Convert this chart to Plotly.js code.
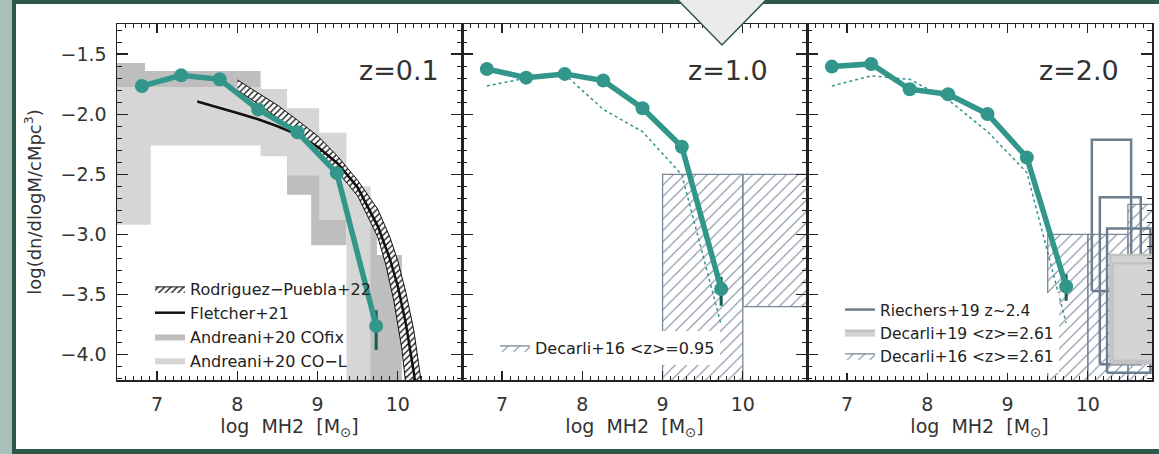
<!DOCTYPE html>
<html><head><meta charset="utf-8">
<script src="https://cdn.plot.ly/plotly-3.0.1.min.js"></script>
<style>html,body{margin:0;padding:0;background:#fff;}#chart{width:1159px;height:454px;}</style>
</head><body><div id="chart"></div>
<script>
// ---------- data ----------
const massBins = [6.81, 7.30, 7.78, 8.26, 8.75, 9.24, 9.73];

// z = 0.1 panel
const z01Y      = [-1.766, -1.677, -1.71, -1.96, -2.15, -2.49, -3.76];
const z01ErrUp  = [0.025, 0.025, 0.025, 0.025, 0.025, 0.03, 0.13];
const z01ErrDn  = [0.025, 0.025, 0.025, 0.025, 0.025, 0.03, 0.20];

const fletcherX = [7.5, 7.75, 8.0, 8.25, 8.5, 8.75, 9.0, 9.25, 9.5, 9.75, 9.9, 10.0, 10.1, 10.2, 10.25];
const fletcherY = [-1.895, -1.94, -1.99, -2.04, -2.10, -2.17, -2.27, -2.41, -2.61, -2.93, -3.2, -3.43, -3.74, -4.15, -4.4];

const rpUpperX = [8.0, 8.25, 8.5, 8.75, 9.0, 9.25, 9.5, 9.75, 9.9, 10.0, 10.1, 10.2, 10.3, 10.35];
const rpUpperY = [-1.715, -1.82, -1.925, -2.05, -2.18, -2.35, -2.55, -2.79, -3.02, -3.22, -3.48, -3.80, -4.25, -4.5];
const rpLowerX = [8.0, 8.25, 8.5, 8.75, 9.0, 9.25, 9.5, 9.75, 9.85, 9.95, 10.05, 10.1, 10.15];
const rpLowerY = [-1.80, -1.91, -2.03, -2.16, -2.30, -2.48, -2.68, -3.02, -3.25, -3.55, -3.95, -4.25, -4.5];

const andFixXlo = [6.5, 6.85, 8.62, 8.92, 9.56, 9.74];
const andFixXhi = [6.85, 8.29, 8.92, 9.36, 9.74, 10.05];
const andFixHi  = [-1.574, -1.64, -2.3, -2.5, -2.88, -3.17];
const andFixLo  = [-1.9, -1.9, -2.67, -3.09, -4.6, -4.6];

const andLXlo = [6.5, 6.92, 8.29, 8.62, 9.02, 9.36];
const andLXhi = [6.92, 8.29, 8.62, 9.02, 9.36, 9.66];
const andLHi  = [-1.773, -1.773, -1.79, -1.95, -2.155, -2.6];
const andLLo  = [-2.92, -2.26, -2.35, -2.51, -2.88, -4.6];

// z = 1.0 panel
const z10Y     = [-1.624, -1.696, -1.665, -1.72, -1.95, -2.27, -3.453];
const z10ErrUp = [0.025, 0.025, 0.025, 0.025, 0.025, 0.03, 0.10];
const z10ErrDn = [0.025, 0.025, 0.025, 0.025, 0.025, 0.03, 0.14];
const z10Dot   = [-1.765, -1.70, -1.67, -1.96, -2.145, -2.504, -3.75];

const dec16aXlo = [9.0, 10.0];
const dec16aXhi = [10.0, 11.0];
const dec16aHi  = [-2.5, -2.5];
const dec16aLo  = [-5.0, -3.6];

// z = 2.0 panel
const z20Y     = [-1.604, -1.582, -1.792, -1.834, -1.998, -2.36, -3.432];
const z20ErrUp = [0.025, 0.025, 0.025, 0.025, 0.025, 0.03, 0.10];
const z20ErrDn = [0.025, 0.025, 0.025, 0.025, 0.025, 0.03, 0.12];
const z20Dot   = [-1.765, -1.682, -1.71, -1.881, -2.145, -2.485, -3.736];

const dec16bXlo = [9.5, 10.0, 10.5];
const dec16bXhi = [10.0, 10.5, 11.0];
const dec16bHi  = [-3.0, -3.0, -2.75];
const dec16bLo  = [-5.0, -5.0, -5.0];

const riechXlo = [10.05, 10.15, 10.24];
const riechXhi = [10.54, 10.66, 10.78];
const riechHi  = [-2.213, -2.69, -2.95];
const riechLo  = [-3.47, -4.08, -4.15];

const dec19Xlo = [10.28, 10.31];
const dec19Xhi = [11.0, 11.0];
const dec19Hi  = [-3.17, -3.24];
const dec19Lo  = [-4.07, -4.05];

const xTicks = [7, 8, 9, 10];
const panelLabels = ['z=0.1', 'z=1.0', 'z=2.0'];
const panelLabelX = [9.49, 9.29, 9.37];

// ---------- helpers ----------
function rects(xlo, xhi, hi, lo) {
  const x = [], y = [];
  for (let i = 0; i < xlo.length; i++) {
    x.push(xlo[i], xhi[i], xhi[i], xlo[i], xlo[i], null);
    y.push(lo[i], lo[i], hi[i], hi[i], lo[i], null);
  }
  return {x, y};
}
const TEAL = '#33968a', TEAL_DK = '#155e55', SLATE = '#7a8898', SLATE_DK = '#6b7d8f';
const FONT = 'DejaVu Sans';

function mainTrace(y, up, dn, xa, ya) {
  return {x: massBins, y: y, xaxis: xa, yaxis: ya, type: 'scatter', mode: 'lines+markers',
    line: {color: TEAL, width: 5.5}, marker: {color: TEAL, size: 14},
    error_y: {type: 'data', symmetric: false, array: up, arrayminus: dn, color: TEAL_DK, thickness: 3, width: 0},
    showlegend: false, hoverinfo: 'skip'};
}
function dotTrace(y, xa, ya) {
  return {x: massBins, y: y, xaxis: xa, yaxis: ya, type: 'scatter', mode: 'lines',
    line: {color: TEAL, width: 1.5, dash: 'dot'}, showlegend: false, hoverinfo: 'skip'};
}

const rFix = rects(andFixXlo, andFixXhi, andFixHi, andFixLo);
const rL = rects(andLXlo, andLXhi, andLHi, andLLo);
const rD16a = rects(dec16aXlo, dec16aXhi, dec16aHi, dec16aLo);
const rD16b = rects(dec16bXlo, dec16bXhi, dec16bHi, dec16bLo);
const rRie = rects(riechXlo, riechXhi, riechHi, riechLo);
const rD19 = rects(dec19Xlo, dec19Xhi, dec19Hi, dec19Lo);

const hatchSlate = {shape: '/', fgcolor: SLATE, bgcolor: 'rgba(0,0,0,0)', size: 8, solidity: 0.14};

const traces = [
  // panel 1
  {x: rFix.x, y: rFix.y, xaxis: 'x', yaxis: 'y', mode: 'lines', fill: 'toself', fillcolor: '#bebebe',
   line: {width: 0, color: '#bebebe'}, name: 'Andreani+20 COfix', legend: 'legend', legendrank: 3, hoverinfo: 'skip'},
  {x: rL.x, y: rL.y, xaxis: 'x', yaxis: 'y', mode: 'lines', fill: 'toself', fillcolor: '#d6d6d6',
   line: {width: 0, color: '#d6d6d6'}, name: 'Andreani+20 CO−L', legend: 'legend', legendrank: 4, hoverinfo: 'skip'},
  {x: rpUpperX.concat(rpLowerX.slice().reverse()), y: rpUpperY.concat(rpLowerY.slice().reverse()),
   xaxis: 'x', yaxis: 'y', mode: 'lines', fill: 'toself', fillcolor: 'white',
   fillpattern: {shape: '/', fgcolor: '#111', bgcolor: 'white', size: 4.5, solidity: 0.3},
   line: {color: '#111', width: 1}, name: 'Rodriguez−Puebla+22', legend: 'legend', legendrank: 1, hoverinfo: 'skip'},
  {x: fletcherX, y: fletcherY, xaxis: 'x', yaxis: 'y', mode: 'lines', line: {color: '#111', width: 2.5},
   name: 'Fletcher+21', legend: 'legend', legendrank: 2, hoverinfo: 'skip'},
  mainTrace(z01Y, z01ErrUp, z01ErrDn, 'x', 'y'),
  // panel 2
  {x: rD16a.x, y: rD16a.y, xaxis: 'x2', yaxis: 'y2', mode: 'lines', fill: 'toself', fillcolor: 'rgba(0,0,0,0)',
   fillpattern: hatchSlate, line: {color: SLATE, width: 1.3}, name: 'Decarli+16 &lt;z&gt;=0.95', legend: 'legend2', hoverinfo: 'skip'},
  dotTrace(z10Dot, 'x2', 'y2'),
  mainTrace(z10Y, z10ErrUp, z10ErrDn, 'x2', 'y2'),
  // panel 3
  {x: rD16b.x, y: rD16b.y, xaxis: 'x3', yaxis: 'y3', mode: 'lines', fill: 'toself', fillcolor: 'rgba(0,0,0,0)',
   fillpattern: hatchSlate, line: {color: SLATE, width: 1.3}, name: 'Decarli+16 &lt;z&gt;=2.61', legend: 'legend3', legendrank: 3, hoverinfo: 'skip'},
  {x: rRie.x, y: rRie.y, xaxis: 'x3', yaxis: 'y3', mode: 'lines', line: {color: SLATE_DK, width: 2.5},
   name: 'Riechers+19 z~2.4', legend: 'legend3', legendrank: 1, hoverinfo: 'skip'},
  {x: rD19.x, y: rD19.y, xaxis: 'x3', yaxis: 'y3', mode: 'lines', fill: 'toself', fillcolor: '#d3d3d3',
   line: {color: '#c3c3c3', width: 2.5}, name: 'Decarli+19 &lt;z&gt;=2.61', legend: 'legend3', legendrank: 2, hoverinfo: 'skip'},
  dotTrace(z20Dot, 'x3', 'y3'),
  mainTrace(z20Y, z20ErrUp, z20ErrDn, 'x3', 'y3')
];

// ---------- layout ----------
const W = 1159, H = 454, ML = 117, MR = 7, MT = 24, MB = 74;
const PW = W - ML - MR, PH = H - MT - MB;
const px = v => (v - ML) / PW;           // page px -> paper x
const py = v => 1 - (v - MT) / PH;       // page px -> paper y

function xAxis(i) {
  const d = [[0, 345 / PW], [345 / PW, 690 / PW], [690 / PW, 1]][i];
  return {
    domain: d, range: [6.5, 10.8], anchor: i === 0 ? 'y' : 'y' + (i + 1),
    showgrid: false, zeroline: false, showline: true, linecolor: '#222', linewidth: 1.5, mirror: 'ticks',
    ticks: 'inside', ticklen: 9, tickwidth: 1.3, tickcolor: '#222',
    tickvals: xTicks, ticktext: xTicks.map(String),
    minor: {ticks: 'inside', dtick: 0.1, tick0: 0, ticklen: 4, tickwidth: 1, tickcolor: '#222'},
    tickfont: {family: FONT, size: 19, color: '#333'}, ticklabelstandoff: 7,
    title: {text: 'log\u00A0 MH2\u00A0 [M<sub>⊙</sub>]', font: {family: FONT, size: 19, color: '#333'}, standoff: 4}
  };
}
function yAxis(i) {
  const a = {
    domain: [0, 1], range: [-4.21, -1.25], anchor: i === 0 ? 'x' : 'x' + (i + 1),
    showgrid: false, zeroline: false, showline: true, linecolor: '#222', linewidth: 1.5, mirror: 'ticks',
    ticks: 'inside', ticklen: 11, tickwidth: 1.3, tickcolor: '#222', dtick: 0.5, tick0: 0, tickformat: '.1f',
    minor: {ticks: 'inside', dtick: 0.1, tick0: 0, ticklen: 5, tickwidth: 1, tickcolor: '#222'},
    tickfont: {family: FONT, size: 19, color: '#333'}, ticklabelstandoff: 5
  };
  if (i === 0) {
    a.title = {text: 'log(dn/dlogM/cMpc<sup>3</sup>)', font: {family: FONT, size: 18, color: '#333'}, standoff: 14};
  } else {
    a.showticklabels = false;
    a.matches = 'y';
  }
  return a;
}

const DKGREEN = '#2e5847', SAGE = '#a7c1ba';
const shapes = [
  {type: 'rect', xref: 'paper', yref: 'paper', x0: px(0), x1: px(12), y0: py(H), y1: py(0), fillcolor: SAGE, line: {width: 0}, layer: 'below'},
  {type: 'rect', xref: 'paper', yref: 'paper', x0: px(12), x1: px(16), y0: py(H), y1: py(0), fillcolor: DKGREEN, line: {width: 0}},
  {type: 'rect', xref: 'paper', yref: 'paper', x0: px(12), x1: px(W), y0: py(4), y1: py(0), fillcolor: DKGREEN, line: {width: 0}},
  {type: 'rect', xref: 'paper', yref: 'paper', x0: px(12), x1: px(W), y0: py(H), y1: py(449), fillcolor: DKGREEN, line: {width: 0}},
  {type: 'path', xref: 'paper', yref: 'paper',
   path: `M ${px(677)} ${py(-1)} L ${px(767)} ${py(-1)} L ${px(722)} ${py(45)} Z`,
   fillcolor: '#ebebeb', line: {color: DKGREEN, width: 1.5}}
];

const annotations = panelLabels.map((t, i) => ({
  text: t, x: panelLabelX[i], y: -1.64, xref: i === 0 ? 'x' : 'x' + (i + 1), yref: 'y',
  xanchor: 'left', yanchor: 'middle', showarrow: false,
  font: {family: FONT, size: 27, color: '#333'}
}));

const legBase = {bgcolor: 'rgba(0,0,0,0)', borderwidth: 0, font: {family: FONT, size: 16, color: '#222'},
  xref: 'paper', yref: 'paper', xanchor: 'left', yanchor: 'top', tracegroupgap: 0, itemwidth: 30, traceorder: 'normal'};

const layout = {
  width: W, height: H, margin: {l: ML, r: MR, t: MT, b: MB}, paper_bgcolor: 'white', plot_bgcolor: 'white',
  font: {family: FONT, color: '#333'},
  xaxis: xAxis(0), xaxis2: xAxis(1), xaxis3: xAxis(2),
  yaxis: yAxis(0), yaxis2: yAxis(1), yaxis3: yAxis(2),
  shapes: shapes, annotations: annotations,
  legend:  Object.assign({}, legBase, {x: px(150), y: py(272)}),
  legend2: Object.assign({}, legBase, {x: px(495), y: py(331), bgcolor: 'white'}),
  legend3: Object.assign({}, legBase, {x: px(840), y: py(293), bgcolor: 'white', font: {family: FONT, size: 15.5, color: '#222'}}),
  showlegend: true
};

Plotly.newPlot('chart', traces, layout, {displayModeBar: false, staticPlot: true});
</script></body></html>
